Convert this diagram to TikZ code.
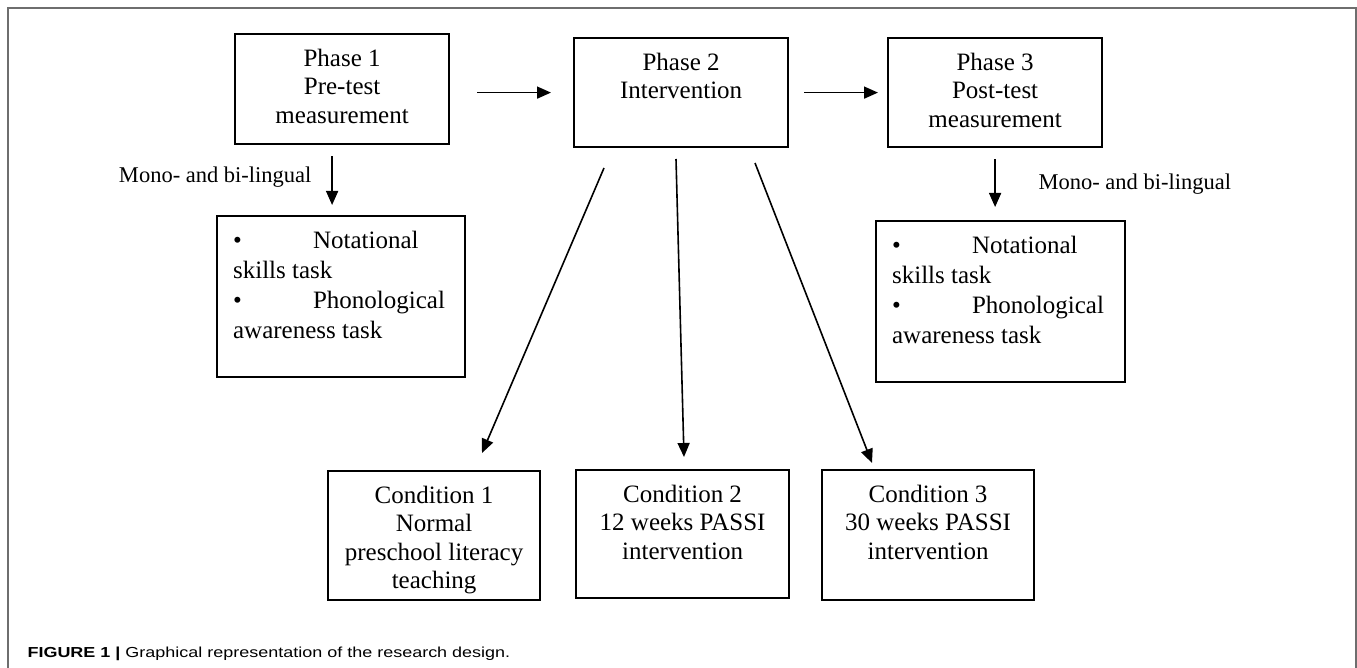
\documentclass[tikz,border=0pt]{standalone}
\usepackage{fontspec}
\setmainfont{Liberation Serif}
\newfontfamily\capfont{Liberation Sans}
\usepackage{tikz}
\usetikzlibrary{arrows.meta}
\newcommand{\boxtext}[3]{\parbox[t][#2][t]{#1}{\fontsize{25}{28.5}\selectfont\centering\rule{0pt}{32pt}#3}}
\newcommand{\listtext}[3]{\parbox[t][#2][t]{#1}{\fontsize{25}{30}\selectfont\raggedright\rule{0pt}{32pt}#3}}
\newcommand{\bul}{\makebox[80pt][l]{\textbullet}}

\begin{document}
\begin{tikzpicture}[x=1pt,y=-1pt,
  box/.style={draw,line width=2.2pt,inner sep=0pt,anchor=north west},
  listbox/.style={box,inner xsep=16pt,inner ysep=0pt},
  arr/.style={-{Triangle[length=14pt,width=12pt]},line width=1.6pt},
  lab/.style={font=\fontsize{22.5}{26}\selectfont}]
%\draw[help lines] (0,0) grid (1357,668);
\useasboundingbox (0,0) rectangle (1357,668);
\draw [black!57,line width=1.5pt] (8,668) -- (8,8) -- (1356,8) -- (1356,668);

% phases
\node (p1) at (234,33) [box] {\boxtext{214pt}{110pt}{Phase 1\\Pre-test\\measurement}};
\node (p2) at (573,37) [box] {\boxtext{214pt}{109pt}{Phase 2\\Intervention}};
\node (p3) at (887,37) [box] {\boxtext{214pt}{109pt}{Phase 3\\Post-test\\measurement}};

% tasks
\node (t1) at (216,215) [listbox] {\listtext{216pt}{161pt}{\bul Notational\\skills task\\\bul Phonological\\awareness task}};
\node (t2) at (875,220) [listbox] {\listtext{217pt}{161pt}{\bul Notational\\skills task\\\bul Phonological\\awareness task}};

% conditions
\node (c1) at (327,470) [box] {\boxtext{212pt}{129pt}{Condition 1\\Normal\\preschool literacy\\teaching}};
\node (c2) at (575,469) [box] {\boxtext{213pt}{128pt}{Condition 2\\12 weeks PASSI\\intervention}};
\node (c3) at (821,469) [box] {\boxtext{212pt}{130pt}{Condition 3\\30 weeks PASSI\\intervention}};

\node (ml1) at (315,177) [lab,anchor=east] {Mono- and bi-lingual};
\node (ml2) at (1035,184) [lab,anchor=west] {Mono- and bi-lingual};

\draw [arr,shorten <=27pt,shorten >=22pt] (p1.east |- p2.west) -- (p2.west);
\draw [arr,shorten <=15pt,shorten >=9pt] (p2.east) -- (p3.west);
\draw [arr,shorten <=11pt,shorten >=10pt] ([xshift=-10pt]p1.south) -- ([xshift=-10pt]p1.south |- t1.north);
\draw [arr,shorten <=11pt,shorten >=13pt] (p3.south) -- (p3.south |- t2.north);

\coordinate (s1) at (604,168);
\coordinate (s2) at (676,159);
\coordinate (s3) at (755,163);
\coordinate (e1) at (482,453);
\coordinate (e2) at (684,457);
\coordinate (e3) at (872,463);
\draw [arr] (s1) -- (e1);
\draw [arr] (s2) -- (e2);
\draw [arr] (s3) -- (e3);

\node (cap) at (24,657) [anchor=base west,font=\capfont\fontsize{14.5}{17}\selectfont]
  {\scalebox{1.24}[1]{\textbf{FIGURE 1 |} Graphical representation of the research design.}};
\end{tikzpicture}
\end{document}
